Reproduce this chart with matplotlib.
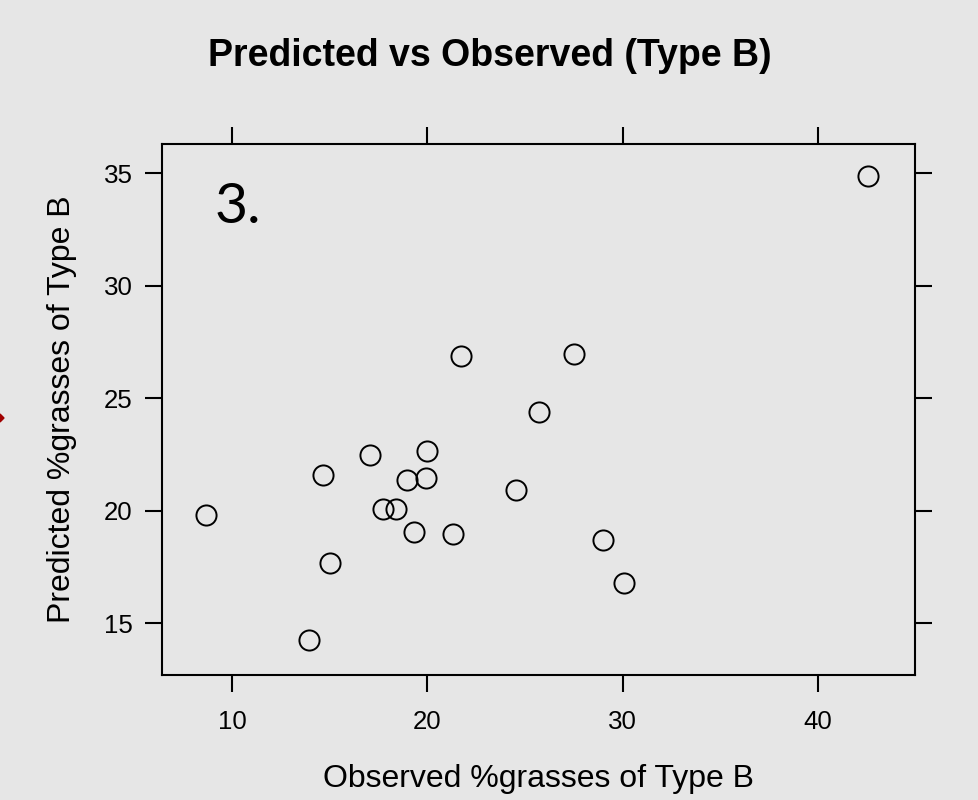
import matplotlib
matplotlib.use("Agg")
import matplotlib.pyplot as plt
from matplotlib.patches import Polygon

# observed vs predicted % grasses of Type B
observed = [42.58, 21.71, 27.49, 25.70, 20.00, 17.06, 14.65, 18.95, 19.92, 24.53,
            8.67, 17.72, 18.39, 19.31, 21.30, 28.98, 15.01, 30.05, 13.94]
predicted = [34.88, 26.88, 26.97, 24.39, 22.65, 22.48, 21.59, 21.36, 21.45, 20.93,
             19.81, 20.08, 20.08, 19.06, 18.97, 18.71, 17.68, 16.80, 14.26]

xticks = [10, 20, 30, 40]
yticks = [15, 20, 25, 30, 35]

bg = '#e6e6e6'
plt.rcParams['font.family'] = ['Liberation Sans', 'DejaVu Sans']

fig = plt.figure(figsize=(9.79, 8), dpi=100, facecolor=bg)
ax = fig.add_axes([0.1655, 0.15625, 0.7691, 0.66375])
ax.set_facecolor(bg)

ax.plot(observed, predicted, linestyle='none', marker='o', markersize=14.5,
        markerfacecolor='none', markeredgecolor='black', markeredgewidth=1.4)

ax.set_xlim(6.42, 44.96)
ax.set_ylim(12.7, 36.3)
ax.set_xticks(xticks)
ax.set_yticks(yticks)

for s in ax.spines.values():
    s.set_linewidth(1.5)
ax.tick_params(direction='out', length=12, width=1.5, top=True, right=True,
               labeltop=False, labelright=False, labelsize=18.6)
ax.tick_params(axis='x', pad=13)
ax.tick_params(axis='y', pad=9)

ax.set_xlabel('Observed %grasses of Type B', fontsize=23, labelpad=22)
ax.set_ylabel('Predicted %grasses of Type B', fontsize=23, labelpad=19)
fig.text(0.5, 1 - 66 / 800, 'Predicted vs Observed (Type B)', ha='center',
         va='baseline', fontsize=27, fontweight='bold')

ax.text(0.0704, 0.851, '3.', transform=ax.transAxes, ha='left', va='baseline',
        fontsize=41, family=['Lato', 'DejaVu Sans'])

# small red arrow tip at the left edge
fig.patches.append(Polygon([(0, 1 - 414 / 800), (4 / 979, 1 - 418 / 800), (0, 1 - 422 / 800)],
                           closed=True, transform=fig.transFigure, color='#a00000'))

fig.savefig('out.png', dpi=100, facecolor=bg)
